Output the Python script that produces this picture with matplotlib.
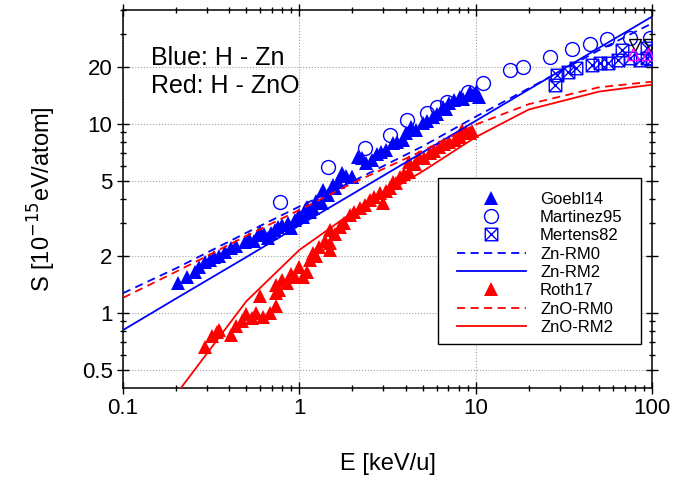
import numpy as np
import matplotlib
matplotlib.use('Agg')
import matplotlib.pyplot as plt
from matplotlib.path import Path
from matplotlib.patches import Rectangle
from matplotlib.lines import Line2D
from matplotlib.legend_handler import HandlerLine2D
from matplotlib import ticker

plt.rcParams['font.family'] = ['Liberation Sans', 'DejaVu Sans']

# --- model curves ---
e_rm = [0.1, 0.2, 0.5, 1, 2, 5, 10, 20, 30, 50, 100]
zn_rm0 = [1.27, 1.72, 2.65, 3.65, 4.95, 7.6, 10.9, 15.4, 18.9, 24.5, 34.0]
zn_rm2 = [0.81, 1.19, 1.97, 2.90, 4.25, 7.06, 10.36, 15.2, 19.0, 25.2, 36.9]

e_zno0 = [0.1, 0.2, 0.5, 1, 2, 5, 10, 20, 50, 100]
zno_rm0 = [1.2, 1.65, 2.55, 3.5, 4.85, 7.2, 9.9, 12.7, 15.6, 16.7]
e_zno2 = [0.2, 0.5, 1, 2, 5, 10, 20, 50, 100]
zno_rm2 = [0.37, 1.15, 2.15, 3.4, 5.6, 8.5, 11.9, 14.8, 16.1]

# --- Goebl14 (H - Zn) ---
goebl_e = [0.205, 0.23, 0.255, 0.27, 0.29, 0.31, 0.33, 0.35, 0.38, 0.41, 0.44, 0.49,
           0.52, 0.55, 0.58, 0.6, 0.63, 0.66, 0.69, 0.73, 0.76, 0.8, 0.86, 0.9, 0.95,
           1.0, 1.05, 1.07, 1.1, 1.15, 1.2, 1.25, 1.34, 1.36, 1.45, 1.55, 1.6, 1.65,
           1.74, 1.85, 1.98, 2.0, 2.15, 2.26, 2.4, 2.57, 2.75, 2.9, 3.1, 3.4, 3.6,
           3.85, 4.0, 4.3, 4.6, 5.0, 5.3, 5.7, 6.0, 6.5, 6.8, 7.1, 7.5, 8.1, 8.5,
           9.3, 9.7, 10.1, 10.5]
goebl_s = [1.44, 1.55, 1.65, 1.75, 1.85, 1.9, 1.98, 2.0, 2.1, 2.2, 2.25, 2.37,
           2.45, 2.4, 2.58, 2.68, 2.6, 2.5, 2.65, 2.75, 2.85, 2.9, 3.0, 2.8, 3.1,
           3.3, 3.2, 3.5, 3.63, 3.4, 3.6, 3.9, 3.8, 4.47, 4.2, 4.76, 4.6, 4.9,
           5.5, 5.3, 5.2, 5.25, 6.7, 6.6, 6.2, 6.45, 6.9, 7.1, 7.3, 7.9, 8.0,
           8.2, 8.9, 9.6, 9.3, 10.1, 10.3, 10.9, 11.3, 12.3, 12.0, 12.9, 13.3, 13.9, 13.6,
           14.7, 14.2, 14.7, 13.9]

# --- Martinez95 ---
mart_e = [0.78, 1.45, 2.35, 3.26, 4.1, 5.3, 6.0, 6.9, 9.0, 11.0, 15.6, 18.5, 26.3,
          35, 44.5, 55.5, 75, 98]
mart_s = [3.86, 5.9, 7.45, 8.7, 10.5, 11.4, 12.3, 13.1, 14.7, 16.5, 19.3, 20.0, 22.6,
          25.0, 26.5, 28.1, 28.5, 28.5]

# --- Mertens82 ---
mert_e = [28, 28.8, 33.3, 37, 45.5, 50.5, 56, 64, 68, 75, 85, 94, 94, 100]
mert_s = [16.1, 18.1, 18.8, 19.8, 20.4, 21.0, 21.0, 21.8, 24.6, 22.2, 21.8, 22.2, 25.2, 22.0]

# --- other (unlabelled) points near 80 keV/u ---
oth1_e = [80, 97]
oth1_s = [26.0, 26.0]
oth2_e = [78, 95]
oth2_s = [23.3, 23.3]

# --- Roth17 (H - ZnO) ---
roth_e = [0.29, 0.32, 0.34, 0.35, 0.41, 0.44, 0.47, 0.5, 0.54, 0.57, 0.6, 0.62, 0.68,
          0.74, 0.74, 0.74, 0.77, 0.8, 0.85, 0.9, 0.94, 1.0, 1.05, 1.1, 1.15, 1.19,
          1.25, 1.3, 1.4, 1.49, 1.49, 1.49, 1.6, 1.7, 1.8, 1.93, 2.05, 2.2, 2.35,
          2.5, 2.65, 2.85, 2.97, 3.1, 3.26, 3.4, 3.55, 3.7, 3.9, 4.2, 4.2, 4.5, 4.8,
          5.1, 5.5, 5.8, 6.2, 6.6, 7.1, 7.6, 8.1, 8.4, 8.8, 9.3, 9.5]
roth_s = [0.66, 0.75, 0.79, 0.81, 0.76, 0.85, 0.9, 0.98, 0.94, 1.0, 1.22, 0.95, 1.0,
          1.08, 1.28, 1.4, 1.32, 1.5, 1.44, 1.6, 1.55, 1.75, 1.55, 1.65, 1.9, 2.08,
          2.0, 2.23, 2.4, 2.15, 2.34, 2.75, 2.6, 2.85, 3.0, 3.3, 3.4, 3.6, 3.7,
          3.96, 4.1, 4.3, 3.8, 4.4, 4.6, 4.9, 4.87, 5.25, 5.4, 5.57, 6.3, 6.1, 6.7,
          6.6, 7.0, 7.2, 7.55, 7.8, 8.0, 8.2, 8.5, 9.3, 9.1, 8.95, 9.2]

BLUE = '#0000ff'
RED = '#ff0000'

# square with a cross inside
xsq = Path([(-1, -1), (1, -1), (1, 1), (-1, 1), (-1, -1), (1, 1), (-1, 1), (1, -1)],
           [Path.MOVETO, Path.LINETO, Path.LINETO, Path.LINETO, Path.LINETO,
            Path.LINETO, Path.MOVETO, Path.LINETO])

fig = plt.figure(figsize=(6.73, 4.83), dpi=100)
ax = fig.add_axes([0.1828, 0.1967, 0.786, 0.7826])

ax.plot(goebl_e, goebl_s, '^', color=BLUE, ms=9.5, mew=0, label='Goebl14', zorder=3)
ax.plot(mart_e, mart_s, 'o', mfc='none', mec=BLUE, ms=10, mew=1.0, label='Martinez95', zorder=3)
ax.plot(mert_e, mert_s, marker=xsq, ls='none', mfc='none', mec=BLUE, ms=9, mew=1.0,
        label='Mertens82', zorder=3)
ax.plot(oth1_e, oth1_s, 'v', mfc='none', mec='black', ms=9, mew=1.0, zorder=3)
ax.plot(oth2_e, oth2_s, '^', mfc='none', mec='#ff00ff', ms=8, mew=1.0, zorder=3)
ax.plot(e_rm, zn_rm0, color=BLUE, lw=1.3, dashes=(4.5, 3), label='Zn-RM0', zorder=4)
ax.plot(e_rm, zn_rm2, color=BLUE, lw=1.3, label='Zn-RM2', zorder=4)
ax.plot(roth_e, roth_s, '^', color=RED, ms=9.5, mew=0, label='Roth17', zorder=3)
ax.plot(e_zno0, zno_rm0, color=RED, lw=1.3, dashes=(4.5, 3), label='ZnO-RM0', zorder=4)
ax.plot(e_zno2, zno_rm2, color=RED, lw=1.3, label='ZnO-RM2', zorder=4)

ax.set_xscale('log')
ax.set_yscale('log')
ax.set_xlim(0.1, 100)
ax.set_ylim(0.4, 40)

ax.xaxis.set_major_locator(ticker.FixedLocator([0.1, 1, 10, 100]))
ax.xaxis.set_major_formatter(ticker.FixedFormatter(['0.1', '1', '10', '100']))
ax.xaxis.set_minor_locator(ticker.LogLocator(base=10, subs=np.arange(2, 10)))
ax.xaxis.set_minor_formatter(ticker.NullFormatter())
ax.yaxis.set_major_locator(ticker.FixedLocator([0.5, 1, 2, 5, 10, 20]))
ax.yaxis.set_major_formatter(ticker.FixedFormatter(['0.5', '1', '2', '5', '10', '20']))
ax.yaxis.set_minor_locator(ticker.FixedLocator([0.6, 0.7, 0.8, 0.9, 3, 4, 6, 7, 8, 9, 30, 40]))
ax.yaxis.set_minor_formatter(ticker.NullFormatter())

ax.tick_params(which='both', direction='inout', top=True, right=True, width=1.0,
               labelsize=16, pad=3)
ax.tick_params(which='major', length=9)
ax.tick_params(which='minor', length=5)
for s in ax.spines.values():
    s.set_linewidth(1.1)

ax.grid(True, which='major', ls=':', color='#a0a0a0', lw=0.8)

ax.set_xlabel('E [keV/u]', fontsize=17, labelpad=24)
ax.set_ylabel('S [10$^{-15}$eV/atom]', fontsize=17, labelpad=17)

ax.text(0.053, 0.854, 'Blue: H - Zn', transform=ax.transAxes, fontsize=18, va='baseline')
ax.text(0.053, 0.780, 'Red: H - ZnO', transform=ax.transAxes, fontsize=18, va='baseline')

leg = ax.legend(loc='lower right', bbox_to_anchor=(0.962, 0.116), borderaxespad=0,
                fontsize=12, numpoints=1, handlelength=4.7, handletextpad=0.85,
                labelspacing=0.2, frameon=False, borderpad=0.55,
                handler_map={Line2D: HandlerLine2D(xpad=0.54)})
leg.set_zorder(6)

# legend frame, wider sideways than the default padding
fig.canvas.draw()
bb = leg.get_window_extent().transformed(fig.transFigure.inverted())
padx = 9 / fig.bbox.width
pady = 4 / fig.bbox.height
box = Rectangle((bb.x0, bb.y0), bb.width + padx, bb.height + pady,
                transform=fig.transFigure, facecolor='white', edgecolor='black',
                lw=1.0, zorder=5)
ax.add_artist(box)
box.set_clip_on(False)

fig.savefig('out.png', dpi=100)
